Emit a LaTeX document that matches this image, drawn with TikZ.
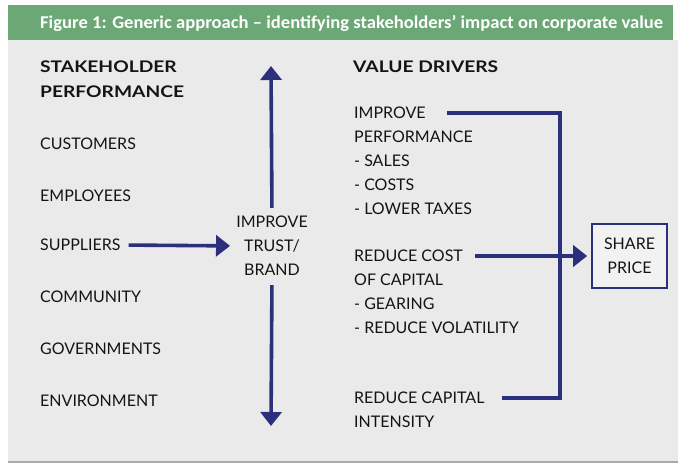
\documentclass[tikz,border=0pt]{standalone}
\usepackage{fontspec}
\setmainfont{Lato}
\newfontfamily\titlefont{Carlito}
\newfontfamily\headfont{Lato}[FakeStretch=1.2]
\usetikzlibrary{arrows.meta}

\definecolor{barGreen}{RGB}{107,168,118}
\definecolor{panelGray}{RGB}{234,234,234}
\definecolor{panelEdge}{RGB}{170,170,170}
\definecolor{navy}{RGB}{44,47,124}
\definecolor{ink}{RGB}{20,20,20}

\newcommand{\bodysize}{\fontsize{16}{19}\selectfont}
\newcommand{\titletext}{Figure 1: Generic approach – identifying stakeholders’ impact on corporate value}
\newlength{\titlewd}

\begin{document}
\settowidth{\titlewd}{\titlefont\bfseries\fontsize{18}{20}\selectfont\titletext}
\pgfmathsetmacro{\titlesx}{623/\titlewd}
\begin{tikzpicture}[x=1pt,y=-1pt,
  lbl/.style={anchor=west, inner sep=0pt, text=ink, text height=11.4pt, text depth=0pt, font=\bodysize},
  headlbl/.style={lbl, font=\bodysize\headfont\bfseries},
  midlbl/.style={lbl, anchor=center},
  flow/.style={draw=navy, line width=3.6pt},
  arr/.style={flow, -{Triangle[width=21pt,length=14pt]}},
  pricebox/.style={draw=navy, line width=1.6pt, fill=panelGray!60!white, minimum width=75pt, minimum height=64pt,
    align=center, text=ink, font=\bodysize, inner sep=0pt},
]
\useasboundingbox (0,0) rectangle (678,464);
\fill[white] (0,0) rectangle (678,464);

% panel with its thin lower edge, and the title bar
\fill[panelEdge] (8,40) rectangle (678,463);
\fill[panelGray] (8,40) rectangle (678,461);
\fill[barGreen] (8,5) rectangle (673,40);
\node[anchor=west, inner sep=0pt, text=white] (title) at (40,23)
  {\scalebox{\titlesx}[1]{\titlefont\bfseries\fontsize{18}{20}\selectfont\titletext}};

% left column: stakeholders
\node[headlbl] (sh1) at (40,67) {STAKEHOLDER};
\node[headlbl] (sh2) at (40,92) {PERFORMANCE};
\node[lbl] (cus) at (40,144) {CUSTOMERS};
\node[lbl] (emp) at (40,196) {EMPLOYEES};
\node[lbl] (sup) at (40,245) {SUPPLIERS};
\node[lbl] (com) at (40,297) {COMMUNITY};
\node[lbl] (gov) at (40,349) {GOVERNMENTS};
\node[lbl] (env) at (40,401) {ENVIRONMENT};

% centre: trust and brand
\node[midlbl] (imp) at (272,222) {IMPROVE};
\node[midlbl] (tru) at (272,246) {TRUST/};
\node[midlbl] (bra) at (272,270) {BRAND};
\coordinate (upTip) at (271,66);
\coordinate (downTip) at (271,426);

% right column: value drivers
\node[headlbl] (vd) at (353,67) {VALUE DRIVERS};
\node[lbl] (ip1) at (354,113) {IMPROVE};
\node[lbl] (ip2) at (354,137) {PERFORMANCE};
\node[lbl] (ip3) at (354,161) {- SALES};
\node[lbl] (ip4) at (354,185) {- COSTS};
\node[lbl] (ip5) at (354,209) {- LOWER TAXES};
\node[lbl] (rc1) at (354,256) {REDUCE COST};
\node[lbl] (rc2) at (354,280) {OF CAPITAL};
\node[lbl] (rc3) at (354,304) {- GEARING};
\node[lbl] (rc4) at (354,328) {- REDUCE VOLATILITY};
\node[lbl] (ri1) at (354,398) {REDUCE CAPITAL};
\node[lbl] (ri2) at (354,422) {INTENSITY};

\node[pricebox] (share) at (629.5,256) {SHARE\\[5pt]PRICE};
\coordinate (bus) at (560,256);

% connectors
\draw[arr, shorten <=8.3pt] (imp.north) -- (upTip);
\draw[arr, shorten <=9.3pt] (bra.south) -- (downTip);
\draw[arr, shorten <=8pt, shorten >=14pt] (sup.east) -- (tru.west);
\draw[arr, shorten <=12pt, shorten >=4pt] (rc1.east) -- (share.west);
\draw[flow, line join=miter, shorten <=21pt, shorten >=17pt] (ip1.east) -| (bus) |- (ri1.east);
\end{tikzpicture}
\end{document}
